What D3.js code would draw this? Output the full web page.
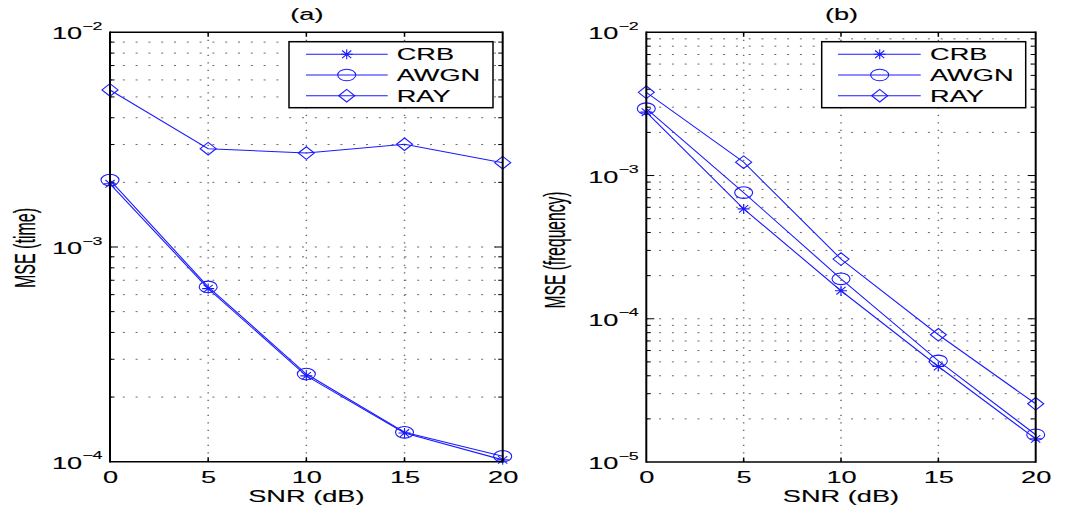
<!DOCTYPE html>
<html>
<head>
<meta charset="utf-8">
<script src="https://cdn.jsdelivr.net/npm/d3@7"></script>
<style>
  html, body { margin: 0; padding: 0; background: #fff; }
  svg { display: block; font-family: "Liberation Sans", Arial, Helvetica, sans-serif; }
  text { stroke: #000; stroke-width: 0.12px; }
</style>
</head>
<body>
<svg id="chart" width="1074" height="515"></svg>
<script>
// ---------- data ----------
const snr = [0, 5, 10, 15, 20];
const xTickLabels = ["0", "5", "10", "15", "20"];

const crbTime  = [1.97e-3, 6.40e-4, 2.51e-4, 1.36e-4, 1.02e-4];
const awgnTime = [2.05e-3, 6.52e-4, 2.56e-4, 1.37e-4, 1.06e-4];
const rayTime  = [5.39e-3, 2.87e-3, 2.74e-3, 3.01e-3, 2.47e-3];

const crbFreq  = [2.77e-3, 5.85e-4, 1.57e-4, 4.64e-5, 1.45e-5];
const awgnFreq = [2.93e-3, 7.60e-4, 1.90e-4, 5.08e-5, 1.55e-5];
const rayFreq  = [3.81e-3, 1.24e-3, 2.61e-4, 7.73e-5, 2.55e-5];

const seriesNames = ["CRB", "AWGN", "RAY"];
const markerTypes = ["star", "circle", "diamond"];
const panelTitles = ["(a)", "(b)"];
const yAxisLabels = ["MSE (time)", "MSE (frequency)"];
const xAxisLabel = "SNR (dB)";
const yTickExpTime = [-4, -3, -2];
const yTickExpFreq = [-5, -4, -3, -2];

// ---------- layout / style ----------
const K = 1.7;             // horizontal stretch of the original figure
const BLUE = "#1a1aff";
const svg = d3.select("#chart");

const panels = [
  { left: 110, right: 502.7, top: 32.3, bottom: 461.7, exps: yTickExpTime,
    data: [crbTime, awgnTime, rayTime], title: panelTitles[0], ylab: yAxisLabels[0],
    ylabX: 35, ylabY: 248, ylabLen: 80,
    legend: { x0: 289, x1: 493, y0: 41.7, y1: 107.7, lx0: 306, lx1: 387.7, mx: 346.7, tx: 396.7 } },
  { left: 646.3, right: 1035.7, top: 32.3, bottom: 462, exps: yTickExpFreq,
    data: [crbFreq, awgnFreq, rayFreq], title: panelTitles[1], ylab: yAxisLabels[1],
    ylabX: 565, ylabY: 250, ylabLen: 117,
    legend: { x0: 821.7, x1: 1025.7, y0: 41.7, y1: 107.7, lx0: 838, lx1: 920.7, mx: 879.7, tx: 930 } }
];
const legendRows = [54.3, 75, 95.7];

function stext(g, x, y, str, size, anchor) {
  return g.append("text")
    .attr("transform", `translate(${x},${y}) scale(${K},1)`)
    .attr("text-anchor", anchor)
    .attr("font-size", size)
    .attr("fill", "#000")
    .text(str);
}

function drawMarker(g, type, cx, cy) {
  const s = { fill: "none", stroke: BLUE, "stroke-width": 1.1 };
  let el;
  if (type === "circle") {
    el = g.append("ellipse").attr("cx", cx).attr("cy", cy).attr("rx", 9).attr("ry", 5.8);
  } else if (type === "diamond") {
    const hw = 8, hh = 6.3;
    el = g.append("path").attr("d", `M${cx - hw},${cy}L${cx},${cy - hh}L${cx + hw},${cy}L${cx},${cy + hh}Z`);
  } else {
    const hw = 6, hh = 5, dw = 4.6, dh = 3.8;
    el = g.append("path").attr("d",
      `M${cx - hw},${cy}L${cx + hw},${cy}M${cx},${cy - hh}L${cx},${cy + hh}` +
      `M${cx - dw},${cy - dh}L${cx + dw},${cy + dh}M${cx - dw},${cy + dh}L${cx + dw},${cy - dh}`);
  }
  Object.entries(s).forEach(([k, v]) => el.attr(k, v));
}

panels.forEach(p => {
  const g = svg.append("g");
  const lo = d3.min(p.exps), hi = d3.max(p.exps);
  const x = d3.scaleLinear().domain([0, 20]).range([p.left, p.right]);
  const y = d3.scaleLog().domain([Math.pow(10, lo), Math.pow(10, hi)]).range([p.bottom, p.top]);

  g.append("rect").attr("x", p.left).attr("y", p.top)
    .attr("width", p.right - p.left).attr("height", p.bottom - p.top).attr("fill", "#fff");

  const minor = [];
  for (let e = lo; e < hi; e++) for (let m = 1; m <= 9; m++) minor.push(m * Math.pow(10, e));
  const inner = minor.filter((v, i) => i > 0);
  const isMajor = d => Math.abs(Math.log10(d) - Math.round(Math.log10(d))) < 1e-9;

  // horizontal dotted grid
  g.selectAll(".hg").data(inner).join("line")
    .attr("x1", p.left).attr("x2", p.right)
    .attr("y1", d => y(d)).attr("y2", d => y(d))
    .attr("stroke", "#6a6a6a").attr("stroke-width", 1)
    .attr("stroke-dasharray", "2,10.8");
  // vertical dotted grid
  g.selectAll(".vg").data(snr.slice(1, -1)).join("line")
    .attr("x1", d => x(d)).attr("x2", d => x(d))
    .attr("y1", p.top).attr("y2", p.bottom)
    .attr("stroke", "#6a6a6a").attr("stroke-width", 1.5)
    .attr("stroke-dasharray", "1.2,6.3");

  // y ticks (left and right, inside)
  g.selectAll(".ytl").data(inner).join("line")
    .attr("x1", p.left).attr("x2", d => p.left + (isMajor(d) ? 8 : 4.5))
    .attr("y1", d => y(d)).attr("y2", d => y(d)).attr("stroke", "#000").attr("stroke-width", 1);
  g.selectAll(".ytr").data(inner).join("line")
    .attr("x1", p.right).attr("x2", d => p.right - (isMajor(d) ? 8 : 4.5))
    .attr("y1", d => y(d)).attr("y2", d => y(d)).attr("stroke", "#000").attr("stroke-width", 1);
  // x ticks (top and bottom, inside)
  g.selectAll(".xtt").data(snr.slice(1, -1)).join("line")
    .attr("x1", d => x(d)).attr("x2", d => x(d)).attr("y1", p.top).attr("y2", p.top + 4.5)
    .attr("stroke", "#000").attr("stroke-width", 1.5);
  g.selectAll(".xtb").data(snr.slice(1, -1)).join("line")
    .attr("x1", d => x(d)).attr("x2", d => x(d)).attr("y1", p.bottom).attr("y2", p.bottom - 4.5)
    .attr("stroke", "#000").attr("stroke-width", 1.5);

  // series lines + markers
  p.data.forEach((vals, si) => {
    const pts = snr.map((s, i) => [s, vals[i]]);
    g.append("path")
      .attr("d", d3.line().x(d => x(d[0])).y(d => y(d[1]))(pts))
      .attr("fill", "none").attr("stroke", BLUE).attr("stroke-width", 1.1);
    pts.forEach(d => drawMarker(g, markerTypes[si], x(d[0]), y(d[1])));
  });

  // axes box
  g.append("line").attr("x1", p.left).attr("x2", p.right).attr("y1", p.top).attr("y2", p.top)
    .attr("stroke", "#000").attr("stroke-width", 1.4);
  g.append("line").attr("x1", p.left).attr("x2", p.right).attr("y1", p.bottom).attr("y2", p.bottom)
    .attr("stroke", "#000").attr("stroke-width", 1.4);
  g.append("line").attr("x1", p.left).attr("x2", p.left).attr("y1", p.top - 0.7).attr("y2", p.bottom + 0.7)
    .attr("stroke", "#000").attr("stroke-width", 2);
  g.append("line").attr("x1", p.right).attr("x2", p.right).attr("y1", p.top - 0.7).attr("y2", p.bottom + 0.7)
    .attr("stroke", "#000").attr("stroke-width", 2);

  // x tick labels via d3 axis
  const xAxis = d3.axisBottom(x).tickValues(snr).tickFormat((d, i) => xTickLabels[i]).tickSize(0);
  const xa = g.append("g").attr("transform", `translate(0,${p.bottom})`).call(xAxis);
  xa.select(".domain").remove();
  xa.selectAll("text")
    .attr("y", 21.5).attr("dy", 0)
    .attr("font-size", 16).attr("fill", "#000")
    .attr("font-family", "Liberation Sans, Arial, sans-serif")
    .attr("transform", `scale(${K},1)`);

  // y tick labels: 10^e
  p.exps.forEach(e => {
    const yy = y(Math.pow(10, e));
    const t = g.append("text")
      .attr("transform", `translate(${p.left - 7.5},${yy + 7}) scale(${K},1)`)
      .attr("text-anchor", "end").attr("fill", "#000");
    t.append("tspan").attr("font-size", 16).text("10");
    t.append("tspan").attr("font-size", 10.5).attr("dy", -9.3).text("\u2212" + Math.abs(e));
  });

  // title, x label, y label
  const cx = (p.left + p.right) / 2;
  stext(g, cx + 0.5, 20, p.title, 16, "middle");
  stext(g, cx, 502, xAxisLabel, 16, "middle");
  g.append("text")
    .attr("transform", `translate(${p.ylabX},${p.ylabY}) scale(${K},1) rotate(-90)`)
    .attr("text-anchor", "middle").attr("font-size", 17).attr("fill", "#000")
    .attr("textLength", p.ylabLen).attr("lengthAdjust", "spacingAndGlyphs")
    .text(p.ylab);

  // legend
  const L = p.legend;
  g.append("rect").attr("x", L.x0).attr("y", L.y0).attr("width", L.x1 - L.x0).attr("height", L.y1 - L.y0)
    .attr("fill", "#fff").attr("stroke", "#000").attr("stroke-width", 1.5);
  seriesNames.forEach((name, i) => {
    const ly = legendRows[i];
    g.append("line").attr("x1", L.lx0).attr("x2", L.lx1).attr("y1", ly).attr("y2", ly)
      .attr("stroke", BLUE).attr("stroke-width", 1.1);
    drawMarker(g, markerTypes[i], L.mx, ly);
    stext(g, L.tx, ly + 5.8, name, 16, "start");
  });
});
</script>
</body>
</html>
